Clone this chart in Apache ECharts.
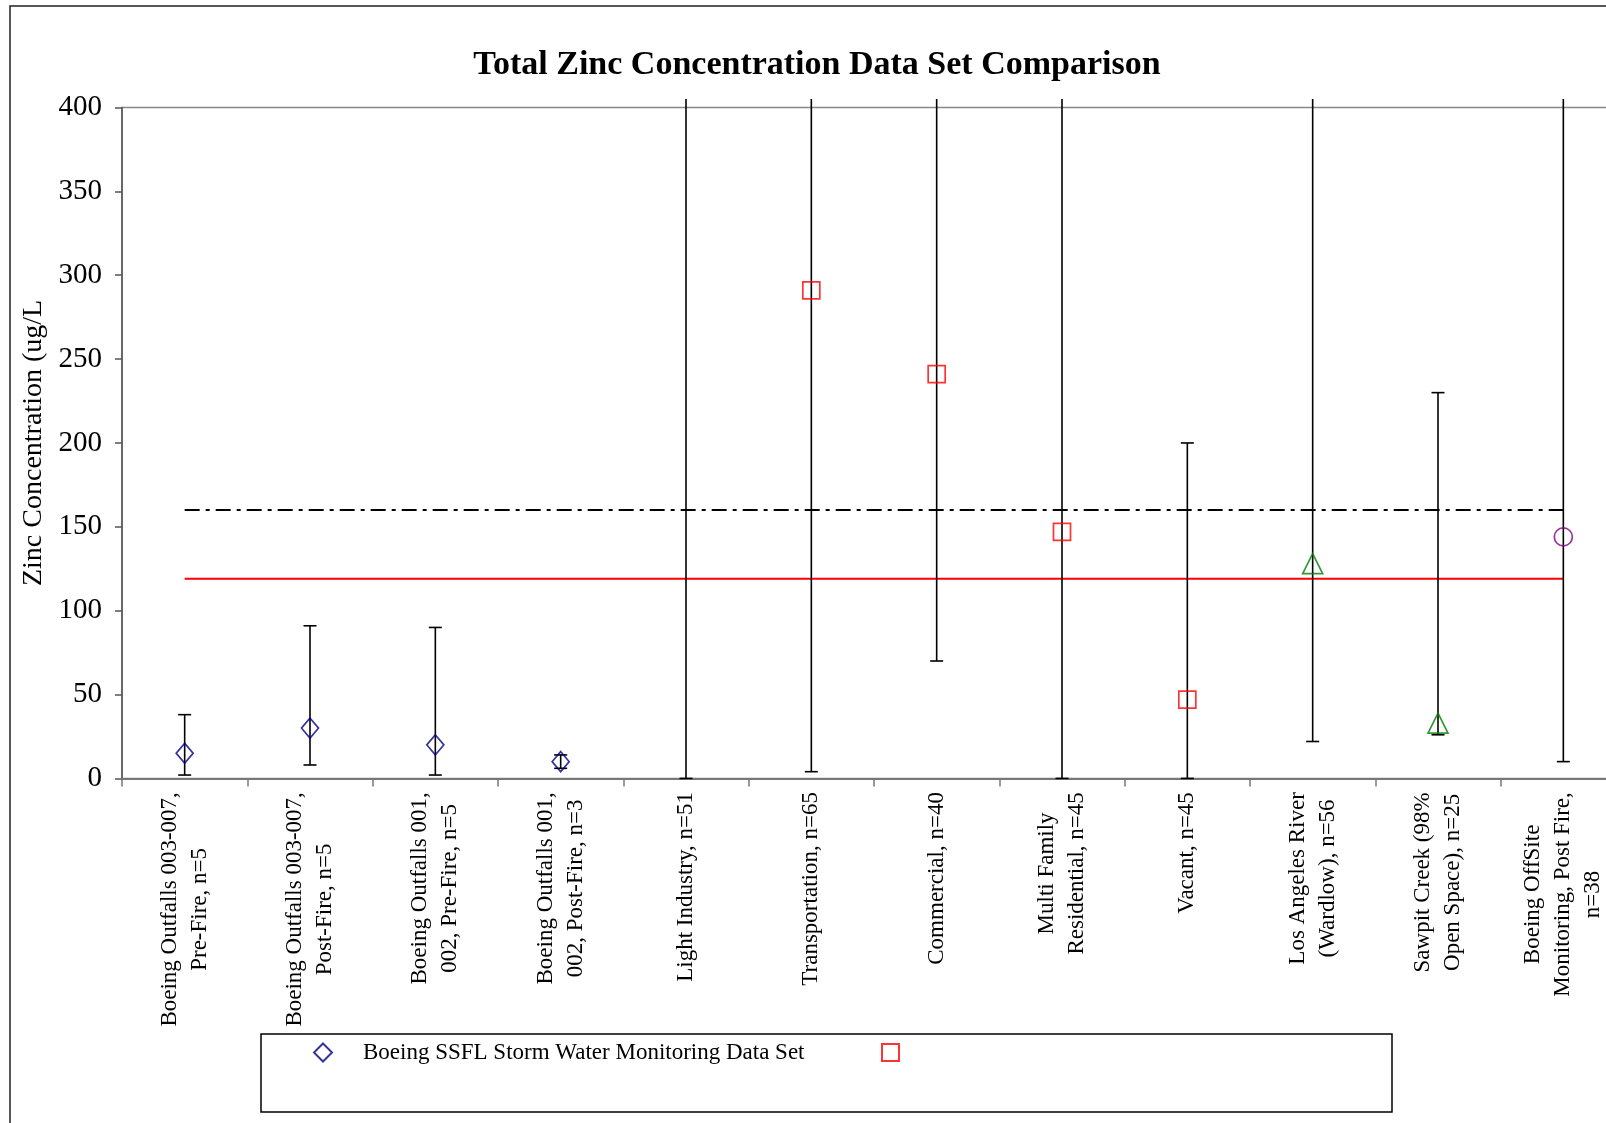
<!DOCTYPE html>
<html>
<head>
<meta charset="utf-8">
<script src="https://cdn.jsdelivr.net/npm/echarts@6/dist/echarts.min.js"></script>
<style>
html,body{margin:0;padding:0;background:#fff;}
#chart{width:1606px;height:1123px;}
</style>
</head>
<body>
<div id="chart"></div>
<script>
// ---- data ----
const categories = [
  'Boeing Outfalls 003-007,\nPre-Fire, n=5',
  'Boeing Outfalls 003-007,\nPost-Fire, n=5',
  'Boeing Outfalls 001,\n002, Pre-Fire, n=5',
  'Boeing Outfalls 001,\n002, Post-Fire, n=3',
  'Light Industry, n=51',
  'Transportation, n=65',
  'Commercial, n=40',
  'Multi Family\nResidential, n=45',
  'Vacant, n=45',
  'Los Angeles River\n(Wardlow), n=56',
  'Sawpit Creek (98%\nOpen Space), n=25',
  'Boeing OffSite\nMonitoring, Post Fire,\nn=38'
];
const boeingSSFL   = [15, 30, 20, 10, null, null, null, null, null, null, null, null];
const landUse      = [null, null, null, null, null, 291, 241, 147, 47, null, null, null];
const receiving    = [null, null, null, null, null, null, null, null, null, 128, 33, null];
const offsite      = [null, null, null, null, null, null, null, null, null, null, null, 144];
const errLow       = [2, 8, 2, 6, 0, 4, 70, 0, 0, 22, 26, 10];
const errHigh      = [38, 91, 90, 14, 405, 405, 405, 405, 200, 405, 230, 405];
const benchmarkA   = [160, 160, 160, 160, 160, 160, 160, 160, 160, 160, 160, 160];
const benchmarkB   = [119, 119, 119, 119, 119, 119, 119, 119, 119, 119, 119, 119];
const yTicks       = { min: 0, max: 400, interval: 50 };
const legendNames  = ['Boeing SSFL Storm Water Monitoring Data Set', ' '];

// ---- styling helpers ----
const FONT = '"Liberation Serif", "Times New Roman", serif';
const LABEL_SIZE = 23;
const measureCtx = document.createElement('canvas').getContext('2d');
measureCtx.font = LABEL_SIZE + 'px ' + FONT;
const rich = {};
categories.forEach((c, i) => {
  const w = Math.max(...c.split('\n').map(l => measureCtx.measureText(l).width));
  rich['c' + i] = { width: Math.ceil(w) + 1, align: 'center', fontSize: LABEL_SIZE,
                    fontFamily: FONT, lineHeight: 30, color: '#000' };
});

const chart = echarts.init(document.getElementById('chart'), null, { renderer: 'canvas' });

const errData = errLow.map((lo, i) => [i, lo, errHigh[i]]);

const option = {
  backgroundColor: '#fff',
  animation: false,
  title: {
    text: 'Total Zinc Concentration Data Set Comparison',
    left: 812, top: 43, textAlign: 'center',
    textStyle: { fontFamily: FONT, fontSize: 34, fontWeight: 'bold', color: '#000' }
  },
  graphic: [
    { type: 'rect', shape: { x: 10, y: 6, width: 1700, height: 1300 },
      style: { fill: 'none', stroke: '#222', lineWidth: 1.5 }, silent: true },
    { type: 'rect', shape: { x: 261, y: 1034, width: 1131, height: 78 },
      style: { fill: 'none', stroke: '#000', lineWidth: 1.5 }, silent: true }
  ],
  legend: [
    { data: [legendNames[0]], left: 313, top: 1041, padding: 0, itemWidth: 18, itemHeight: 18,
      textStyle: { fontFamily: FONT, fontSize: 23, color: '#000', padding: [0, 0, 0, 26] } },
    { data: [legendNames[1]], left: 881, top: 1041, padding: 0, itemWidth: 17, itemHeight: 17,
      textStyle: { fontFamily: FONT, fontSize: 23, color: '#000' } }
  ],
  grid: {
    left: 122, width: 1504, top: 107.5, bottom: 344.6,
    outerBoundsMode: 'none', containLabel: false,
    show: true, borderColor: '#888', borderWidth: 1.5, backgroundColor: 'transparent'
  },
  xAxis: {
    type: 'category',
    data: categories,
    boundaryGap: true,
    axisLine: { lineStyle: { color: '#777', width: 2 } },
    axisTick: { show: true, length: 8, lineStyle: { color: '#777', width: 1.5 } },
    axisLabel: {
      interval: 0, rotate: 90, margin: 13,
      formatter: (v, idx) => v.split('\n').map(l => '{c' + idx + '|' + l + '}').join('\n'),
      rich: rich
    },
    splitLine: { show: false }
  },
  yAxis: {
    type: 'value',
    min: yTicks.min, max: yTicks.max, interval: yTicks.interval,
    name: 'Zinc Concentration (ug/L',
    nameLocation: 'middle', nameGap: 74,
    nameTextStyle: { fontFamily: FONT, fontSize: 28, color: '#000' },
    axisLine: { show: true, lineStyle: { color: '#555', width: 1.5 } },
    axisTick: { show: true, length: 7, lineStyle: { color: '#555', width: 1.5 } },
    axisLabel: { fontFamily: FONT, fontSize: 29, color: '#000', margin: 20 },
    splitLine: { show: false }
  },
  series: [
    { type: 'line', name: 'benchmarkA', data: benchmarkA, symbol: 'none', z: 1,
      lineStyle: { color: '#000', width: 2, type: [15, 6, 4, 6] }, silent: true },
    { type: 'line', name: 'benchmarkB', data: benchmarkB, symbol: 'none', z: 1,
      lineStyle: { color: '#ff0000', width: 2 }, silent: true },
    {
      type: 'custom', name: 'range', z: 2, clip: false,
      data: errData,
      encode: { x: 0, y: [1, 2] },
      renderItem: function (params, api) {
        const i = api.value(0);
        const lo = api.value(1), hi = api.value(2);
        const pLo = api.coord([i, lo]);
        const pHi = api.coord([i, hi]);
        const cap = 6.5;
        const st = { stroke: '#000', lineWidth: 1.6 };
        const children = [
          { type: 'line', shape: { x1: pLo[0], y1: pLo[1], x2: pHi[0], y2: pHi[1] }, style: st },
          { type: 'line', shape: { x1: pLo[0] - cap, y1: pLo[1], x2: pLo[0] + cap, y2: pLo[1] }, style: st }
        ];
        if (hi <= yTicks.max) {
          children.push({ type: 'line', shape: { x1: pHi[0] - cap, y1: pHi[1], x2: pHi[0] + cap, y2: pHi[1] }, style: st });
        }
        return { type: 'group', children: children };
      }
    },
    { type: 'scatter', name: legendNames[0], data: boeingSSFL, symbol: 'diamond', symbolSize: [17, 20], z: 3,
      itemStyle: { color: 'rgba(255,255,255,0)', borderColor: '#000080', borderWidth: 1.7 } },
    { type: 'scatter', name: legendNames[1], data: landUse, symbol: 'rect', symbolSize: [17, 17], z: 3,
      itemStyle: { color: 'rgba(255,255,255,0)', borderColor: '#ff0000', borderWidth: 1.7 } },
    { type: 'scatter', name: 'receiving', data: receiving, symbol: 'triangle', symbolSize: [20, 20], z: 3,
      itemStyle: { color: 'rgba(255,255,255,0)', borderColor: '#008000', borderWidth: 1.7 } },
    { type: 'scatter', name: 'offsite', data: offsite, symbol: 'circle', symbolSize: 18, z: 3,
      itemStyle: { color: 'rgba(255,255,255,0)', borderColor: '#800080', borderWidth: 1.7 } }
  ]
};
chart.setOption(option);
</script>
</body>
</html>
